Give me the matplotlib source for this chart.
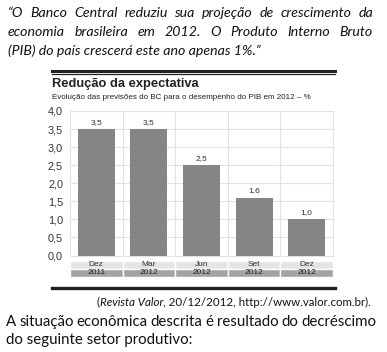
import matplotlib.pyplot as plt
import matplotlib.transforms as mtransforms
from matplotlib.patches import Rectangle
from matplotlib.lines import Line2D

# Data
months = ['Dez', 'Mar', 'Jun', 'Set', 'Dez']
years = ['2011', '2012', '2012', '2012', '2012']
values = [3.5, 3.5, 2.5, 1.6, 1.0]
yticks = [0.0, 0.5, 1.0, 1.5, 2.0, 2.5, 3.0, 3.5, 4.0]

quote_lines = ['\u201cO Banco Central reduziu sua projeção de crescimento da',
               'economia brasileira em 2012. O Produto Interno Bruto',
               '(PIB) do país crescerá este ano apenas 1%.\u201d']
question_lines = ['A situação econômica descrita é resultado do decréscimo',
                  'do seguinte setor produtivo:']

W, H = 387, 352
fig = plt.figure(figsize=(W / 100, H / 100), dpi=100)
renderer = fig.canvas.get_renderer()


def fx(x):
    return x / W


def fy(y):
    return 1 - y / H


def justified(line, x0, x1, y, **kw):
    # place words spread between x0 and x1
    words = line.split(' ')
    texts = [fig.text(0, fy(y), w, va='center', ha='left', **kw) for w in words]
    widths = [t.get_window_extent(renderer).width for t in texts]
    gap = (x1 - x0 - sum(widths)) / (len(words) - 1)
    x = x0
    for t, w in zip(texts, widths):
        t.set_x(fx(x))
        x += w + gap


qfont = dict(family=['Lato', 'DejaVu Sans'], style='italic', fontsize=10.2,
             color='#111111')
justified(quote_lines[0], 8, 373, 13, **qfont)
justified(quote_lines[1], 8, 373, 32, **qfont)
fig.text(fx(8), fy(51), quote_lines[2], va='center', ha='left', **qfont)

# Chart frame lines
fig.add_artist(Line2D([fx(52), fx(335)], [fy(71), fy(71)], color='#222222',
                      lw=2.2, transform=fig.transFigure))
fig.add_artist(Line2D([fx(52), fx(335)], [fy(73.8), fy(73.8)], color='#222222',
                      lw=0.9, transform=fig.transFigure))
fig.add_artist(Line2D([fx(52), fx(335)], [fy(288), fy(288)], color='#222222',
                      lw=2.4, transform=fig.transFigure))

fig.text(fx(52), fy(84), 'Redução da expectativa', fontsize=9.3,
         fontweight='bold', family='Liberation Sans', color='#222222',
         va='center', ha='left')
fig.text(fx(52), fy(97), 'Evolução das previsões do BC para o desempenho do PIB em 2012 \u2013 %',
         fontsize=5.8, family='Liberation Sans', color='#222222',
         va='center', ha='left')

# Bar chart
ax = fig.add_axes([fx(70), fy(255.5), fx(333) - fx(70), (255.5 - 111) / H])
x = list(range(len(values)))
ax.bar(x, values, width=0.7, color='#858585', zorder=3)
ax.set_xlim(-0.5, len(values) - 0.5)
ax.set_ylim(0, 4)
ax.set_yticks(yticks)
ax.set_yticklabels([('%.1f' % v).replace('.', ',') for v in yticks],
                   fontsize=7.8, family='Liberation Sans', color='#333333')
ax.tick_params(axis='y', length=0, pad=5)
ax.set_xticks([i + 0.5 for i in x[:-1]])
ax.set_xticklabels([])
ax.tick_params(axis='x', length=0)
ax.grid(True, color='#e2e2e2', lw=0.8, zorder=0)
for s in ax.spines.values():
    s.set_color('#e2e2e2')
    s.set_linewidth(0.8)

for i, v in zip(x, values):
    ax.annotate(('%.1f' % v).replace('.', ','), (i, v), xytext=(0, 2.5),
                textcoords='offset points', ha='center', va='bottom',
                fontsize=6, family='Liberation Sans', color='#333333')

# Category label cells under the axis
trans = mtransforms.blended_transform_factory(ax.transData, ax.transAxes)
ah = 144.5
r1_top = -(261 - 255.5) / ah
r1_bot = -(268.5 - 255.5) / ah
r2_bot = -(277 - 255.5) / ah
for i in x:
    ax.add_patch(Rectangle((i - 0.5, r1_bot), 1, r1_top - r1_bot,
                           transform=trans, facecolor='#e4e4e6',
                           edgecolor='white', lw=1, clip_on=False))
    ax.add_patch(Rectangle((i - 0.5, r2_bot), 1, r1_bot - r2_bot,
                           transform=trans, facecolor='#a3a3a5',
                           edgecolor='white', lw=1, clip_on=False))
    ax.text(i, (r1_top + r1_bot) / 2, months[i], transform=trans,
            ha='center', va='center', fontsize=6, family='Liberation Sans',
            color='#333333')
    ax.text(i, (r1_bot + r2_bot) / 2, years[i], transform=trans,
            ha='center', va='center', fontsize=6, family='Liberation Sans',
            color='#222222')

# Source and question
src_font = dict(family=['Lato', 'DejaVu Sans'], fontsize=8.3, color='#111111')
t2 = fig.text(fx(371), fy(302), ', 20/12/2012, http://www.valor.com.br).',
              ha='right', va='center', **src_font)
w2 = t2.get_window_extent(renderer).width
t1 = fig.text(fx(371 - w2), fy(302), 'Revista Valor', ha='right', va='center',
              style='italic', **src_font)
w1 = t1.get_window_extent(renderer).width
fig.text(fx(371 - w2 - w1), fy(302), '(', ha='right', va='center', **src_font)

qfont2 = dict(family=['Lato', 'DejaVu Sans'], fontsize=10.8, color='#111111')
justified(question_lines[0], 6, 376, 322, **qfont2)
fig.text(fx(6), fy(340), question_lines[1], va='center', ha='left', **qfont2)

fig.savefig('out.png', dpi=100)
